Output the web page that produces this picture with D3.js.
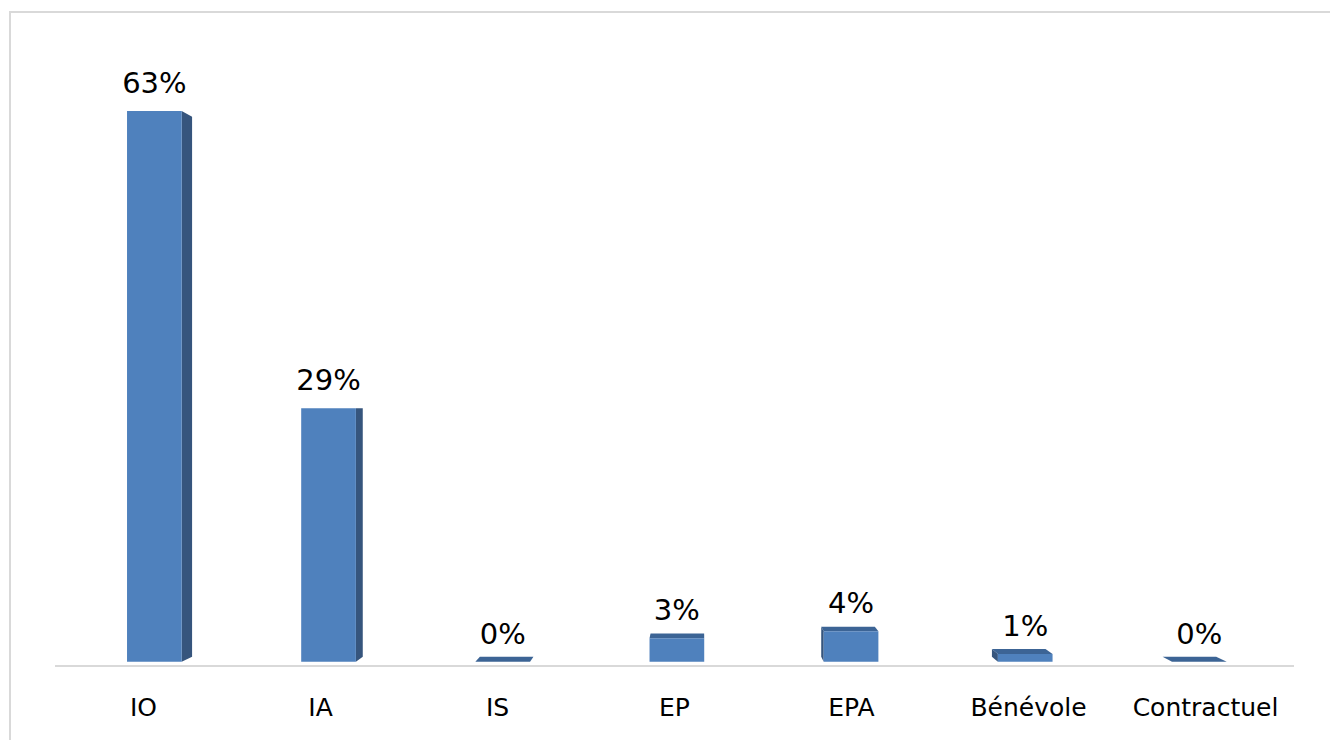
<!DOCTYPE html>
<html>
<head>
<meta charset="utf-8">
<script src="https://cdn.jsdelivr.net/npm/d3@7"></script>
<style>
html,body{margin:0;padding:0;background:#fff;}
svg{display:block;}
</style>
</head>
<body>
<svg id="chart" width="1330" height="740"></svg>
<script>
const categories = ["IO", "IA", "IS", "EP", "EPA", "Bénévole", "Contractuel"];
const values = [0.63, 0.29, 0.0, 0.027, 0.035, 0.009, 0.0];

const W = 1330, H = 740;
const svg = d3.select("#chart");

// frame
svg.append("rect").attr("x", 10).attr("y", 12).attr("width", 1330).attr("height", 740)
  .attr("fill", "none").attr("stroke", "#d9d9d9").attr("stroke-width", 2);

const x = d3.scaleBand().domain(categories).range([55, 1294]).padding(0);
const y = d3.scaleLinear().domain([0, 0.7]).range([666, 44]);

// perspective
const VP = [700, 405];
const sFront = 0.984, sBack = 0.984 * 0.98;
const P = (px, py, s) => [VP[0] + (px - VP[0]) * s, VP[1] + (py - VP[1]) * s];

const colFront = "#4f81bd", colSide = "#36557d", colTop = "#3c6495";

// baseline
svg.append("line").attr("x1", 55).attr("x2", 1294).attr("y1", 666).attr("y2", 666)
  .attr("stroke", "#d9d9d9").attr("stroke-width", 2);

const barW = x.bandwidth() * 0.314;
const g = svg.append("g");
const poly = pts => "M" + pts.map(p => p.join(",")).join("L") + "Z";

categories.forEach((c, i) => {
  const cx = x(c) + x.bandwidth() / 2 + 2;
  const x0 = cx - barW / 2, x1 = cx + barW / 2;
  const yt = y(values[i]), yb = y(0);
  const fTL = P(x0, yt, sFront), fTR = P(x1, yt, sFront), fBL = P(x0, yb, sFront), fBR = P(x1, yb, sFront);
  const bTL = P(x0, yt, sBack), bTR = P(x1, yt, sBack), bBL = P(x0, yb, sBack), bBR = P(x1, yb, sBack);
  // side faces
  if (fTR[0] < VP[0]) {
    g.append("path").attr("d", poly([fTR, bTR, bBR, fBR])).attr("fill", colSide);
  }
  if (fTL[0] > VP[0]) {
    g.append("path").attr("d", poly([fTL, bTL, bBL, fBL])).attr("fill", colSide);
  }
  // top face
  if (fTL[1] > VP[1]) {
    g.append("path").attr("d", poly([fTL, fTR, bTR, bTL])).attr("fill", colTop);
  }
  // front face
  if (fBL[1] - fTL[1] > 0.01) {
    g.append("path").attr("d", poly([fTL, fTR, fBR, fBL])).attr("fill", colFront);
  }
  // data label
  g.append("text").attr("x", (fTL[0] + fTR[0]) / 2).attr("y", fTL[1] - 18)
    .attr("text-anchor", "middle")
    .attr("font-family", "DejaVu Sans, Verdana, sans-serif").attr("font-size", 29)
    .attr("fill", "#000").text(d3.format(".0%")(values[i]));
});

// category axis labels
const xAxis = d3.axisBottom(x).tickSize(0).tickPadding(0);
const ax = svg.append("g").attr("transform", "translate(0,666)").call(xAxis);
ax.select(".domain").remove();
ax.selectAll("text")
  .attr("y", 50).attr("dy", null)
  .attr("font-family", "DejaVu Sans, Verdana, sans-serif").attr("font-size", 25)
  .attr("fill", "#000");
</script>
</body>
</html>
